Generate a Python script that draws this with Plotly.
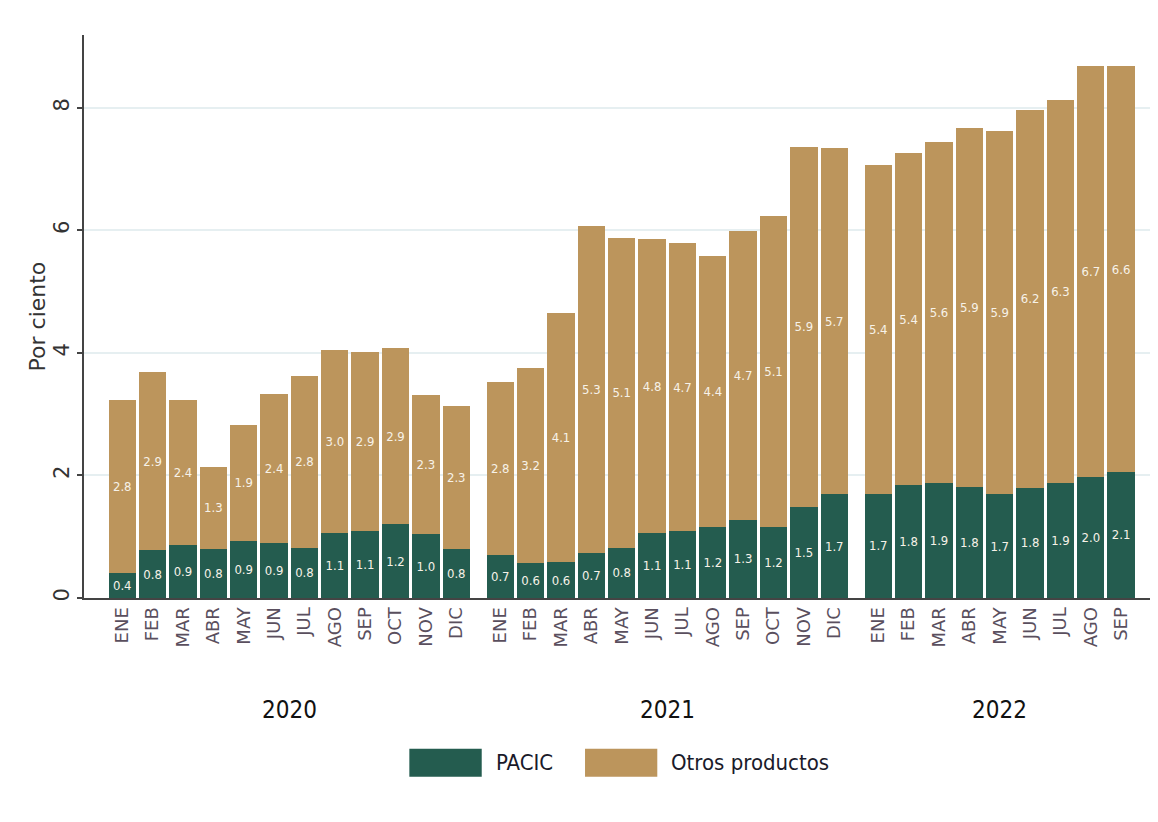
import plotly.graph_objects as go

years = ["2020", "2021", "2022"]
months = ["ENE", "FEB", "MAR", "ABR", "MAY", "JUN", "JUL", "AGO", "SEP", "OCT", "NOV", "DIC"]
months_per_year = [12, 12, 9]

pacic_2020 = [0.41, 0.78, 0.87, 0.80, 0.93, 0.90, 0.82, 1.06, 1.10, 1.20, 1.04, 0.80]
otros_2020 = [2.83, 2.91, 2.37, 1.34, 1.90, 2.43, 2.80, 2.99, 2.91, 2.88, 2.28, 2.34]
pacic_2021 = [0.70, 0.57, 0.58, 0.73, 0.82, 1.06, 1.09, 1.16, 1.28, 1.16, 1.48, 1.69]
otros_2021 = [2.83, 3.18, 4.08, 5.34, 5.06, 4.80, 4.70, 4.42, 4.71, 5.07, 5.89, 5.66]
pacic_2022 = [1.70, 1.84, 1.87, 1.81, 1.69, 1.80, 1.87, 1.97, 2.06]
otros_2022 = [5.36, 5.42, 5.57, 5.86, 5.94, 6.17, 6.26, 6.71, 6.62]

series_names = ["PACIC", "Otros productos"]
colors = ["#245C4F", "#BC955C"]
y_title = "Por ciento"

# x positions: consecutive months, with a half-bar gap between years
GAP = 0.45
xpos, xlab, year_centers = [], [], []
k = 0
for g, (yr, n) in enumerate(zip(years, months_per_year)):
    grp = []
    for m in months[:n]:
        pos = k + GAP * g
        xpos.append(pos)
        xlab.append(m)
        grp.append(pos)
        k += 1
    year_centers.append(sum(grp) / len(grp))

pacic = pacic_2020 + pacic_2021 + pacic_2022
otros = otros_2020 + otros_2021 + otros_2022

NARROW = "DejaVu Sans Condensed, Liberation Sans, sans-serif"
label_font = dict(family=NARROW, size=13, color="#F7F2E8")

fig = go.Figure()
for name, vals, col in zip(series_names, [pacic, otros], colors):
    fig.add_trace(go.Bar(
        x=xpos, y=vals, name=name, marker=dict(color=col, line=dict(width=0)),
        width=0.9, texttemplate="%{y:.1f}", textposition="inside",
        insidetextanchor="middle", textangle=0, textfont=label_font,
        showlegend=False, hoverinfo="y+name",
    ))

fig.update_layout(
    barmode="stack",
    width=1158, height=822,
    margin=dict(l=76, r=16, t=27, b=232),
    plot_bgcolor="white", paper_bgcolor="white",
    uniformtext=dict(minsize=13, mode="show"),
    font=dict(family="DejaVu Sans, sans-serif", color="#333333"),
)
fig.update_xaxes(
    range=[-1.26, 33.85], tickmode="array", tickvals=xpos, ticktext=xlab,
    tickangle=-90, tickfont=dict(family="DejaVu Sans, sans-serif", size=18, color="#5a4f5e"),
    showline=True, linecolor="#444444", linewidth=2, ticks="", showgrid=False,
    zeroline=False, automargin=False,
)
fig.update_yaxes(
    range=[0, 9.19], tickvals=[0, 2, 4, 6, 8], tickangle=-90,
    tickfont=dict(family="DejaVu Sans, sans-serif", size=21, color="#333333"),
    ticks="outside", ticklen=5, tickcolor="#444444", tickwidth=1.5,
    showline=True, linecolor="#444444", linewidth=1.5,
    showgrid=True, gridcolor="#E6EFF1", gridwidth=2, zeroline=False, automargin=False,
)
fig.add_annotation(x=-0.0432, xref="paper", y=0.5, yref="paper", text=y_title,
                   textangle=-90, showarrow=False, xanchor="center", yanchor="middle",
                   font=dict(family="DejaVu Sans, sans-serif", size=22, color="#333333"))

year_font = dict(family=NARROW, size=24, color="#111111")
for yr, xc in zip(years, year_centers):
    fig.add_annotation(x=xc, xref="x", y=-0.199, yref="paper", text=yr,
                       showarrow=False, font=year_font, yanchor="middle")

# legend drawn as swatches + labels
leg_font = dict(family=NARROW, size=22, color="#1a1a2a")
leg_items = [(0.3052, 0.3731, 0.385), (0.470, 0.5378, 0.549)]
for (x0, x1, xt), name, col in zip(leg_items, series_names, colors):
    fig.add_shape(type="rect", xref="paper", yref="paper", x0=x0, x1=x1,
                  y0=-0.3173, y1=-0.2679, fillcolor=col, line=dict(width=0))
    fig.add_annotation(x=xt, xref="paper", y=-0.2926, yref="paper", text=name,
                       showarrow=False, font=leg_font, xanchor="left", yanchor="middle")

fig.write_html("out.html")
